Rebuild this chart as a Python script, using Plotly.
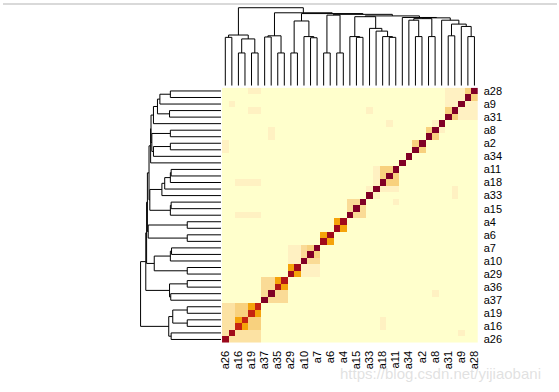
import plotly.graph_objects as go

W, H = 559, 392
N_LEAVES = 39

# tick labels (every other leaf is labelled, as in the reference)
col_labels = ["a26", "a16", "a19", "a37", "a35", "a29", "a10", "a7", "a6", "a4",
              "a15", "a33", "a18", "a11", "a34", "a2", "a8", "a31", "a9", "a28"]
row_labels = ["a26", "a16", "a19", "a37", "a36", "a29", "a10", "a7", "a6", "a4",
              "a15", "a33", "a18", "a11", "a34", "a2", "a8", "a31", "a9", "a28"]
label_pos = [0, 2, 4, 6, 8, 10, 12, 14, 16, 18, 20, 22, 24, 26, 28, 30, 32, 34, 36, 38]

# diagonal values (leaf order 1..39)
diag_vals = [0.92, 0.9, 0.8, 0.8, 0.8, 0.8, 1.0, 1.0, 0.85, 0.85,
             0.9, 0.9, 1.0, 1.0, 1.0, 0.9, 0.9, 0.9, 0.9, 1.0,
             1.0, 1.0, 1.0, 1.0, 1.0, 1.0, 1.0, 1.0, 1.0, 1.0,
             1.0, 1.0, 1.0, 1.0, 1.0, 1.0, 1.0, 1.0, 1.0]

# symmetric block values: rows r1..r2 x cols c1..c2 (1-based), mirrored
blk_r1 = [1, 3, 3, 5, 7, 9, 11, 11, 13, 14, 16, 18, 20, 23, 24, 25, 30, 32, 33, 35, 35, 37, 38]
blk_r2 = [2, 4, 3, 5, 8, 9, 11, 12, 15, 14, 16, 18, 22, 23, 24, 27, 30, 32, 33, 35, 36, 37, 38]
blk_c1 = [1, 5, 4, 6, 7, 10, 12, 13, 13, 15, 17, 19, 20, 24, 25, 25, 31, 33, 34, 36, 37, 38, 39]
blk_c2 = [6, 6, 4, 6, 10, 10, 12, 15, 15, 15, 17, 19, 22, 24, 27, 27, 31, 33, 34, 36, 39, 39, 39]
blk_v = [0.35, 0.45, 0.6, 0.6, 0.4, 0.6, 0.6, 0.2, 0.4, 0.45, 0.6, 0.6, 0.4, 0.2, 0.2, 0.45,
         0.45, 0.45, 0.2, 0.45, 0.2, 0.2, 0.45]

# isolated faint cells (row, col) 1-based, not mirrored
cell_r = [39, 39, 37, 36, 36, 32, 33, 30, 31, 25, 25, 25, 25, 20, 20, 20, 20, 8, 3, 4, 2, 36, 34, 22, 23, 24]
cell_c = [5, 6, 2, 5, 6, 8, 8, 1, 1, 3, 4, 5, 6, 3, 4, 5, 6, 33, 25, 25, 37, 23, 26, 27, 36, 36]
cell_v = [0.2] * 26

# dendrogram (hclust style: negative = leaf position, positive = earlier merge)
merge_left = [-3, -5, 1, -1, 4, -7, -9, 6, -11, -14, -13, 9, -16, -18, 13, -21, -20, -26, -25,
              -24, -23, 17, -30, -29, -32, 24, -35, -38, -37, 27, -34, 26, -28, 22, 15, 12, 8, 5]
merge_right = [-4, -6, 2, -2, 3, -8, -10, 7, -12, -15, 10, 11, -17, -19, 14, -22, 16, -27, 18,
               19, 20, 21, -31, 23, -33, 25, -36, -39, 28, 29, 30, 31, 32, 33, 34, 35, 36, 37]
merge_height = [0.42, 0.42, 0.60, 0.62, 0.65, 0.625, 0.42, 0.64, 0.42, 0.615, 0.63, 0.83,
                0.42, 0.42, 0.905, 0.62, 0.63, 0.62, 0.63, 0.70, 0.735, 0.885, 0.63, 0.84,
                0.63, 0.86, 0.64, 0.63, 0.76, 0.79, 0.84, 0.87, 0.875, 0.895, 0.915,
                0.925, 0.935, 1.0]

colorscale = [[0.0, "#FFFFCC"], [0.2, "#FFF1C2"], [0.35, "#FCE2A3"], [0.4, "#FADB96"],
              [0.45, "#F8D17E"], [0.6, "#F5A30A"], [0.8, "#C62310"], [0.9, "#A00A1A"],
              [1.0, "#800026"]]

# ---- build matrix ----
Z = [[0.0] * N_LEAVES for _ in range(N_LEAVES)]
for r1, r2, c1, c2, v in zip(blk_r1, blk_r2, blk_c1, blk_c2, blk_v):
    for r in range(r1, r2 + 1):
        for c in range(c1, c2 + 1):
            Z[r - 1][c - 1] = v
            Z[c - 1][r - 1] = v
for r, c, v in zip(cell_r, cell_c, cell_v):
    Z[r - 1][c - 1] = v
for i, v in enumerate(diag_vals):
    Z[i][i] = v


def dendro_segments(ml, mr, mh):
    pos, hgt = {}, {}
    xs, ys = [], []

    def node(ref):
        if ref < 0:
            return -ref - 1, 0.0
        return pos[ref], hgt[ref]

    for i, (a, b, h) in enumerate(zip(ml, mr, mh), start=1):
        xa, ha = node(a)
        xb, hb = node(b)
        xs += [xa, xa, xb, xb, None]
        ys += [ha, h, h, hb, None]
        pos[i] = (xa + xb) / 2
        hgt[i] = h
    return xs, ys


dx, dy = dendro_segments(merge_left, merge_right, merge_height)

fig = go.Figure()
fig.add_trace(go.Heatmap(z=Z, x=list(range(N_LEAVES)), y=list(range(N_LEAVES)),
                         colorscale=colorscale, zmin=0, zmax=1, showscale=False,
                         hoverinfo="skip", xaxis="x", yaxis="y"))
fig.add_trace(go.Scatter(x=dx, y=dy, mode="lines", line=dict(color="black", width=1),
                         hoverinfo="skip", showlegend=False, xaxis="x2", yaxis="y2"))
fig.add_trace(go.Scatter(x=dy, y=dx, mode="lines", line=dict(color="black", width=1),
                         hoverinfo="skip", showlegend=False, xaxis="x3", yaxis="y3"))

hx0, hx1 = 221 / W, 479 / W
hy0, hy1 = 1 - 345 / H, 1 - 86 / H
font = dict(family="Liberation Sans, Arial, sans-serif", size=11, color="black")
rng = [-0.5, N_LEAVES - 0.5]

fig.update_layout(
    width=W, height=H, autosize=False,
    margin=dict(l=0, r=0, t=0, b=0),
    paper_bgcolor="white", plot_bgcolor="white",
    showlegend=False,
    xaxis=dict(domain=[hx0, hx1], range=rng, anchor="y", tickvals=label_pos,
               ticktext=col_labels, tickangle=-90, ticks="", showgrid=False,
               zeroline=False, showline=False, tickfont=font, ticklabelstandoff=5,
               fixedrange=True),
    yaxis=dict(domain=[hy0, hy1], range=rng, anchor="x", side="right", tickvals=label_pos,
               ticktext=row_labels, ticks="", showgrid=False, zeroline=False,
               showline=False, tickfont=font, ticklabelstandoff=5, fixedrange=True),
    xaxis2=dict(domain=[hx0, hx1], range=rng, anchor="y2", visible=False, fixedrange=True),
    yaxis2=dict(domain=[1 - 84 / H, 1 - 4 / H], range=[0, 1.01], anchor="x2",
                visible=False, fixedrange=True),
    xaxis3=dict(domain=[138 / W, 220 / W], range=[1.01, 0], anchor="y3", visible=False,
                fixedrange=True),
    yaxis3=dict(domain=[hy0, hy1], range=rng, anchor="x3", visible=False, fixedrange=True),
    shapes=[dict(type="line", xref="paper", yref="paper", x0=0, x1=1,
                 y0=1 - 1 / H, y1=1 - 1 / H, line=dict(color="#D9D9D9", width=2))],
    annotations=[dict(text="https://blog.csdn.net/yijiaobani", xref="paper", yref="paper",
                      x=338 / W, y=1 - 376 / H, xanchor="left", yanchor="middle",
                      showarrow=False,
                      font=dict(family="Liberation Sans, Arial, sans-serif", size=15,
                                color="rgba(200,200,200,0.55)"))],
)

fig.write_html("out.html",
               config={"displayModeBar": False, "staticPlot": True},
               post_script="document.body.style.margin='0px';"
                           "document.body.style.overflow='hidden';")
